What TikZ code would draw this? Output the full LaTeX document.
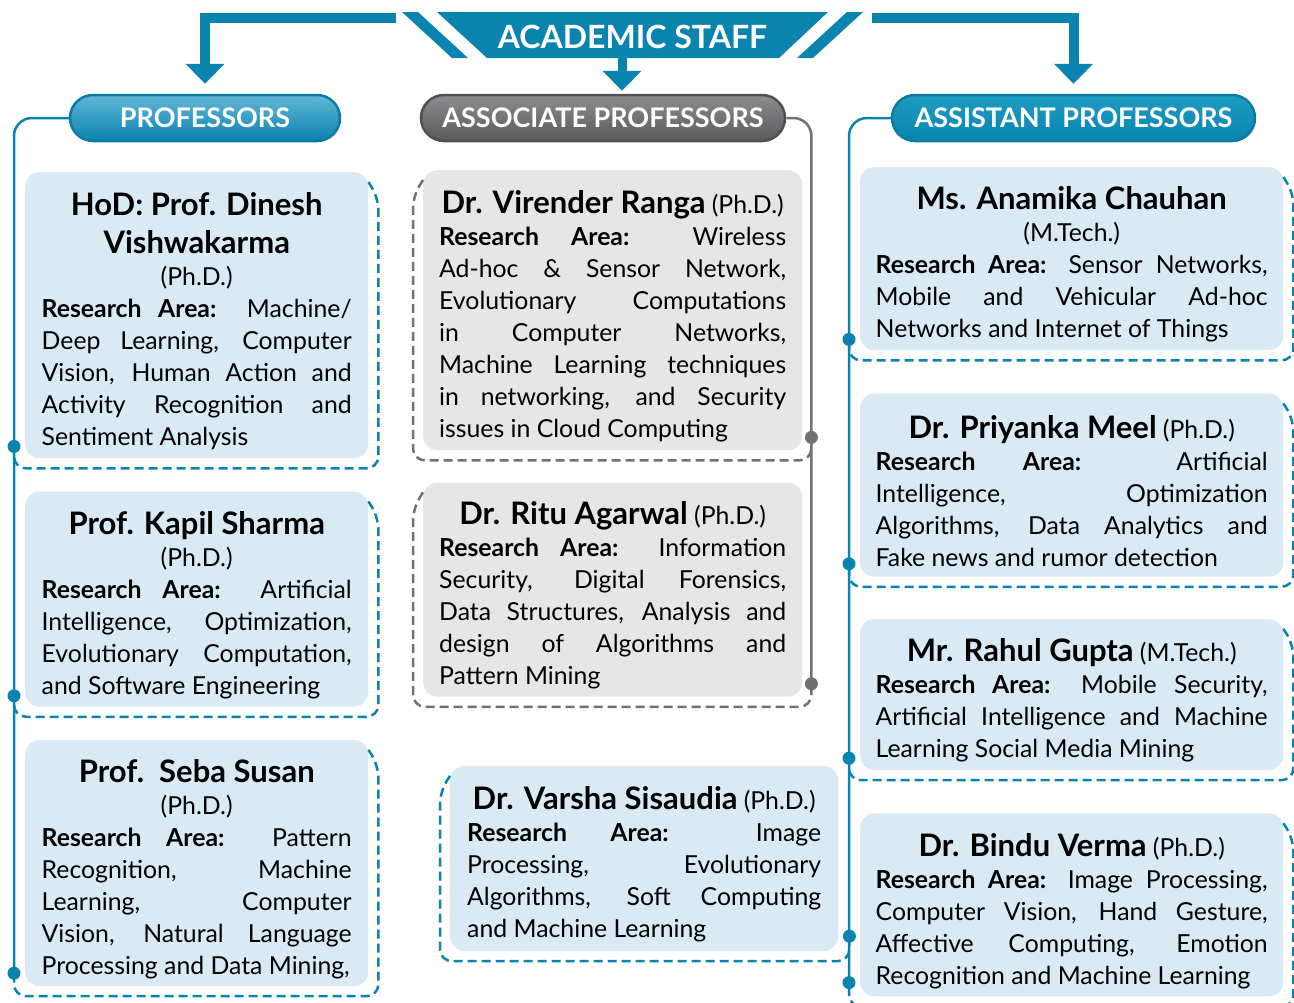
\documentclass[tikz,border=0pt]{standalone}
\usepackage{fontspec}
\setmainfont{Lato}
\usepackage{xcolor}
\usetikzlibrary{arrows.meta,positioning,calc}
\definecolor{duBlue}{HTML}{0A84AE}
\definecolor{duEdge}{HTML}{0B7BA3}
\definecolor{duTop}{HTML}{62B6D8}
\definecolor{duMid}{HTML}{1E9CC6}
\definecolor{duSky}{HTML}{DAEAF5}
\definecolor{duGrey}{HTML}{E6E6E7}
\definecolor{duLine}{HTML}{707173}
\definecolor{duDark}{HTML}{58595B}
\setlength{\parindent}{0pt}
\hyphenpenalty=10000 \exhyphenpenalty=10000
\tolerance=10000 \hbadness=10000
\newcommand{\rarea}{\textbf{Research Area:}}
\newcommand{\cname}[1]{{\fontsize{31}{38}\selectfont\bfseries\rule{0pt}{35pt}#1}}
\newcommand{\ctitle}[1]{{\centering #1\par}}
\tikzset{
  card/.style={anchor=north west,rounded corners=14pt,align=justify,
    inner ysep=2pt,font=\fontsize{24.8}{32}\selectfont},
  pcard/.style={card,fill=duSky,text width=310pt,inner xsep=16.5pt},
  acard/.style={card,fill=duGrey,text width=347pt,inner xsep=16pt},
  scard/.style={card,fill=duSky,text width=392pt,inner xsep=15.5pt},
  hpill/.style={rounded corners=23pt,minimum height=46pt,line width=2.5pt,
    text=white,inner sep=0pt,font=\fontsize{27}{30}\selectfont\bfseries},
  bpill/.style={hpill,draw=duEdge,bottom color=duBlue},
  gpill/.style={hpill,draw=duDark!90!black,top color=duLine!80,bottom color=duDark},
  sarrow/.style={draw=duBlue,line width=10pt,-{Triangle[width=38pt,length=20pt]}},
  bline/.style={draw=duBlue,line width=2.5pt,rounded corners=18pt},
  gline/.style={draw=duLine,line width=2.5pt,rounded corners=18pt},
  bdash/.style={draw=duBlue,line width=2.5pt,dash pattern=on 9pt off 5pt,rounded corners=12pt},
  gdash/.style={draw=duLine,line width=2.5pt,dash pattern=on 9pt off 5pt,rounded corners=12pt},
  pdot/.style={circle,fill=duBlue,inner sep=0pt,minimum size=13pt},
  gdot/.style={pdot,fill=duLine},
}
\begin{document}
\begin{tikzpicture}[x=1pt,y=1pt]
\useasboundingbox (0,0) rectangle (1294,-1002);
\fill[duBlue] (437,-12) -- (828,-12) -- (779,-58) -- (487,-58) -- cycle;
\fill[duBlue] (402,-12) -- (418,-12) -- (468,-58) -- (452,-58) -- cycle;
\fill[duBlue] (847,-12) -- (863,-12) -- (813,-58) -- (797,-58) -- cycle;
\node[text=white,font=\fontsize{32}{34}\selectfont\bfseries] (staff) at (632.5,-37) {ACADEMIC STAFF};
\coordinate (lbar) at (396,-18);
\coordinate (rbar) at (872,-18);
\coordinate (cbar) at (622,-57);

\node[bpill,minimum width=270pt,top color=duTop] (prof) at (205,-118) {PROFESSORS};
\node[gpill,minimum width=364pt] (assoc) at (603,-118) {ASSOCIATE PROFESSORS};
\node[bpill,minimum width=363pt,top color=duMid] (asst) at (1073.5,-118) {ASSISTANT PROFESSORS};

\draw[sarrow] (lbar) -| ([yshift=10pt]prof.north);
\draw[sarrow] (rbar) -| ([yshift=10pt]asst.north);
\draw[sarrow,line width=9pt] (cbar) -- ($(cbar |- assoc.north)+(0,3)$);

\node[pcard,minimum height=286pt] (hod) at (25,-172) {\ctitle{\cname{HoD: Prof. Dinesh\par Vishwakarma\par}}\ctitle{(Ph.D.)}\rarea{} Machine/\linebreak Deep Learning, Computer\linebreak Vision, Human Action and\linebreak Activity Recognition and\linebreak Sentiment Analysis};
\node[pcard,minimum height=215pt,below=33pt of hod] (ks) {\ctitle{\cname{Prof. Kapil Sharma}}\ctitle{(Ph.D.)}\rarea{} Artificial\linebreak Intelligence, Optimization,\linebreak Evolutionary Computation,\linebreak and Software Engineering};
\node[pcard,minimum height=246pt,below=33pt of ks] (ss) {\ctitle{\cname{Prof.\ \ Seba Susan}}\ctitle{(Ph.D.)}\rarea{} Pattern\linebreak Recognition, Machine\linebreak Learning, Computer\linebreak Vision, Natural Language\linebreak Processing and Data Mining,};

\node[acard,minimum height=280pt] (vr) at (423,-170) {\ctitle{\cname{Dr. Virender Ranga} (Ph.D.)}\rarea{} Wireless\linebreak Ad-hoc \& Sensor Network,\linebreak Evolutionary Computations\linebreak in Computer Networks,\linebreak Machine Learning techniques\linebreak in networking, and Security\linebreak issues in Cloud Computing};
\node[acard,minimum height=214pt,below=32pt of vr] (ra) {\ctitle{\cname{Dr. Ritu Agarwal} (Ph.D.)}\rarea{} Information\linebreak Security, Digital Forensics,\linebreak Data Structures, Analysis and\linebreak design of Algorithms and\linebreak Pattern Mining};
\node[card,fill=duSky,text width=354pt,inner xsep=17pt,minimum height=185pt,below=69pt of ra,xshift=31.5pt] (vs) {\ctitle{\cname{Dr. Varsha Sisaudia} (Ph.D.)}\rarea{} Image\linebreak Processing, Evolutionary\linebreak Algorithms, Soft Computing\linebreak and Machine Learning};

\node[scard,minimum height=183pt] (am) at (860,-167) {\ctitle{\cname{Ms. Anamika Chauhan}}\ctitle{(M.Tech.)}\rarea{} Sensor Networks,\linebreak Mobile and Vehicular Ad-hoc\linebreak Networks and Internet of Things};
\node[scard,minimum height=183pt,below=43pt of am] (pm) {\ctitle{\cname{Dr. Priyanka Meel} (Ph.D.)}\rarea{} Artificial\linebreak Intelligence, Optimization\linebreak Algorithms, Data Analytics and\linebreak Fake news and rumor detection};
\node[scard,minimum height=151pt,below=42pt of pm] (rg) {\ctitle{\cname{Mr. Rahul Gupta} (M.Tech.)}\rarea{} Mobile Security,\linebreak Artificial Intelligence and Machine\linebreak Learning Social Media Mining};
\node[scard,minimum height=183pt,below=43pt of rg] (bv) {\ctitle{\cname{Dr. Bindu Verma} (Ph.D.)}\rarea{} Image Processing,\linebreak Computer Vision, Hand Gesture,\linebreak Affective Computing, Emotion\linebreak Recognition and Machine Learning};

\coordinate (pd1) at ($(hod.south west)+(-11,12)$);
\coordinate (pd2) at ($(ks.south west)+(-11,11)$);
\coordinate (pd3) at ($(ss.south west)+(-11,13)$);
\coordinate (ad1) at ($(vr.south east)+(9,13)$);
\coordinate (ad2) at ($(ra.south east)+(9,13)$);
\coordinate (sd1) at ($(am.south west)+(-11,11)$);
\coordinate (sd2) at ($(pm.south west)+(-11,13)$);
\coordinate (sd3) at ($(rg.south west)+(-11,12)$);
\coordinate (sd4) at ($(vs.south east)+(11,15)$);
\coordinate (sd5) at ($(bv.south west)+(-11,14)$);

\draw[bline] (prof.west) -| (pd3);
\draw[gline] (assoc.east) -| (ad2);
\draw[bline] (asst.west) -| (sd5);

\draw[bdash] ($(hod.north east)+(0,-10)$) -- ++(10,-16) |- ($(hod.south west)+(-11,-10)$) -- (pd1);
\draw[bdash] ($(ks.north east)+(0,-10)$) -- ++(10,-16) |- ($(ks.south west)+(-11,-10)$) -- (pd2);
\draw[bdash] ($(ss.north east)+(0,-10)$) -- ++(10,-16) |- ($(ss.south west)+(-11,-10)$) -- (pd3);
\draw[gdash] ($(vr.north west)+(0,-10)$) -- ++(-10,-16) |- ($(vr.south east)+(9,-10)$) -- (ad1);
\draw[gdash] ($(ra.north west)+(0,-10)$) -- ++(-10,-16) |- ($(ra.south east)+(9,-10)$) -- (ad2);
\draw[bdash] ($(vs.north west)+(0,-10)$) -- ++(-10,-16) |- ($(vs.south east)+(11,-10)$) -- (sd4);
\draw[bdash] ($(am.north east)+(0,-10)$) -- ++(10,-16) |- ($(am.south west)+(-11,-10)$) -- (sd1);
\draw[bdash] ($(pm.north east)+(0,-10)$) -- ++(10,-16) |- ($(pm.south west)+(-11,-10)$) -- (sd2);
\draw[bdash] ($(rg.north east)+(0,-10)$) -- ++(10,-16) |- ($(rg.south west)+(-11,-10)$) -- (sd3);
\draw[bdash] ($(bv.north east)+(0,-10)$) -- ++(10,-16) |- ($(bv.south west)+(-11,-10)$) -- (sd5);

\foreach \d in {pd1,pd2,pd3,sd1,sd2,sd3,sd4,sd5} \node[pdot] at (\d) {};
\foreach \d in {ad1,ad2} \node[gdot] at (\d) {};
\end{tikzpicture}
\end{document}
